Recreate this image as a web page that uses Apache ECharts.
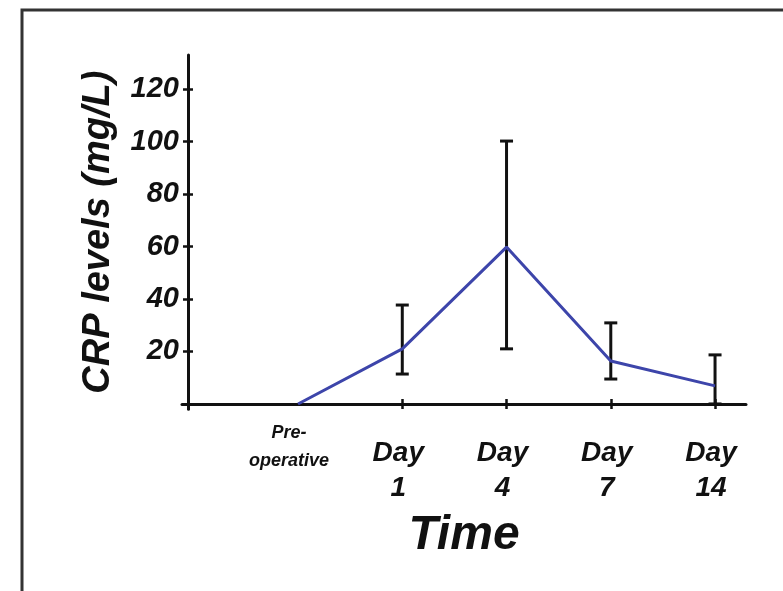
<!DOCTYPE html>
<html>
<head>
<meta charset="utf-8">
<script src="https://cdn.jsdelivr.net/npm/echarts@6/dist/echarts.min.js"></script>
<style>
  html, body { margin: 0; padding: 0; background: #fff; }
  #main { width: 783px; height: 591px; }
</style>
</head>
<body>
<div id="main"></div>
<script>
// data
const categories = ['Pre-\noperative', 'Day\n1', 'Day\n4', 'Day\n7', 'Day\n14'];
const crpMean = [0, 21, 59.8, 16.4, 6.9];
const crpLow = [0, 11.4, 21, 9.5, 0];
const crpHigh = [0, 37.7, 100.2, 30.9, 18.7];
const yTickLabels = [20, 40, 60, 80, 100, 120];

const FONT = 'Liberation Sans';
const catPos = categories.map((c, i) => i + 1);

const chart = echarts.init(document.getElementById('main'));

const lineData = crpMean.map((v, i) => [catPos[i], v]);
const errData = crpMean.map((v, i) => [catPos[i], crpLow[i], crpHigh[i]]);

const labelStyle = {
    color: '#111',
    fontFamily: FONT,
    fontWeight: 'bold',
    fontStyle: 'italic'
};
const tickLine = { color: '#111', width: 2.5 };

const option = {
    animation: false,
    graphic: [{
        type: 'rect',
        shape: { x: 22, y: 10, width: 900, height: 800 },
        style: { fill: 'none', stroke: '#333', lineWidth: 3 },
        silent: true
    }],
    grid: { left: 182, right: 37, top: 55, bottom: 181.8 },
    xAxis: [{
        type: 'value',
        min: -0.113,
        max: 5.297,
        splitLine: { show: false },
        axisLine: { onZero: true, lineStyle: { color: '#111', width: 3 } },
        axisTick: { show: true, length: 5, customValues: [2, 3, 4, 5], lineStyle: tickLine },
        axisLabel: {
            customValues: catPos,
            margin: 10,
            formatter: function (val) {
                const text = categories[Math.round(val) - 1];
                if (!text) return '';
                const lines = text.split('\n');
                if (Math.round(val) === 1) {
                    return lines.map(l => '{s|' + l + '}').join('\n');
                }
                return '{gap| }\n' + lines.map(l => '{d|' + l + '}').join('\n');
            },
            rich: {
                s: Object.assign({ fontSize: 18, lineHeight: 28, padding: [0, 18, 0, 0] }, labelStyle),
                d: Object.assign({ fontSize: 28, lineHeight: 35, padding: [0, 8, 0, 0] }, labelStyle),
                gap: { fontSize: 10, lineHeight: 17 }
            }
        },
        name: 'Time',
        nameLocation: 'middle',
        nameGap: 103,
        nameTextStyle: Object.assign({ fontSize: 48 }, labelStyle)
    }, {
        type: 'value',
        position: 'bottom',
        min: -0.113,
        max: 5.297,
        splitLine: { show: false },
        axisLine: { show: true, onZero: true, lineStyle: { opacity: 0 } },
        axisTick: { show: true, inside: true, length: 5, customValues: [2, 3, 4, 5], lineStyle: tickLine },
        axisLabel: { show: false }
    }],
    yAxis: [{
        type: 'value',
        min: -2,
        max: 133,
        offset: -6,
        splitLine: { show: false },
        axisLine: { show: true, onZero: false, lineStyle: { color: '#111', width: 3 } },
        axisTick: { show: true, length: 5, customValues: yTickLabels, lineStyle: tickLine },
        axisLabel: Object.assign({ customValues: yTickLabels, fontSize: 29, margin: 9, padding: [8, 0, 0, 0] }, labelStyle),
        name: 'CRP levels (mg/L)',
        nameLocation: 'middle',
        nameGap: 70,
        nameTextStyle: Object.assign({ fontSize: 38 }, labelStyle)
    }, {
        type: 'value',
        position: 'left',
        min: -2,
        max: 133,
        offset: -6,
        splitLine: { show: false },
        axisLine: { show: true, onZero: false, lineStyle: { opacity: 0 } },
        axisTick: { show: true, inside: true, length: 5, customValues: yTickLabels, lineStyle: tickLine },
        axisLabel: { show: false }
    }],
    series: [{
        type: 'custom',
        name: 'SD',
        xAxisIndex: 0,
        yAxisIndex: 0,
        z: 2,
        data: errData,
        renderItem: function (params, api) {
            const x = api.value(0);
            const lo = api.value(1);
            const hi = api.value(2);
            if (hi === lo) return null;
            const pLo = api.coord([x, lo]);
            const pHi = api.coord([x, hi]);
            const cap = 6.5;
            const style = { stroke: '#111', lineWidth: 3 };
            return {
                type: 'group',
                children: [
                    { type: 'line', shape: { x1: pLo[0], y1: pLo[1], x2: pHi[0], y2: pHi[1] }, style: style },
                    { type: 'line', shape: { x1: pHi[0] - cap, y1: pHi[1], x2: pHi[0] + cap, y2: pHi[1] }, style: style },
                    { type: 'line', shape: { x1: pLo[0] - cap, y1: pLo[1], x2: pLo[0] + cap, y2: pLo[1] }, style: style }
                ]
            };
        }
    }, {
        type: 'line',
        name: 'CRP',
        xAxisIndex: 0,
        yAxisIndex: 0,
        z: 3,
        data: lineData,
        showSymbol: false,
        lineStyle: { color: '#3d45aa', width: 3 },
        itemStyle: { color: '#3d45aa' }
    }]
};

chart.setOption(option);
</script>
</body>
</html>
